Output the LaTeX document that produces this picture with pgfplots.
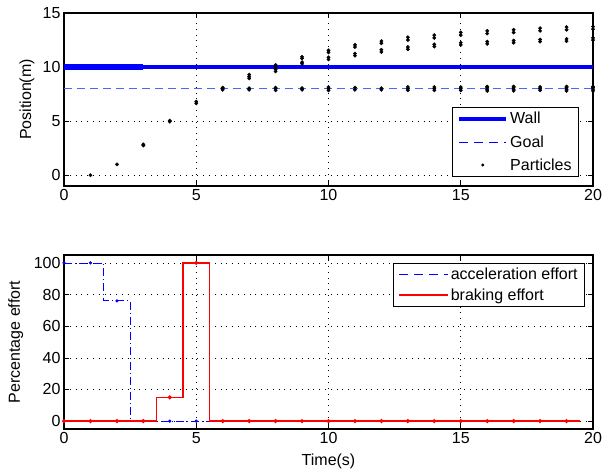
\documentclass[border=0pt]{standalone}
\usepackage{fontspec}
\setmainfont{Liberation Sans}
\usepackage{pgfplots}
\pgfplotsset{compat=1.18}
\definecolor{wallblue}{rgb}{0,0,1}
\definecolor{goalblue}{rgb}{0.28,0.4,1}
\pgfplotsset{
  myax/.style={
    scale only axis, width=529pt,
    xmin=0, xmax=20, xtick={0,5,...,20},
    grid=major,
    major grid style={black, line width=0.55pt, dash pattern=on 0.6pt off 5.2pt},
    tick align=inside, major tick length=5pt,
    tick style={black, line width=0.6pt},
    axis line style={line width=1.2pt},
    /pgf/number format/assume math mode=true,
    ticklabel style={font=\fontsize{16}{19}\selectfont},
    label style={font=\fontsize{16}{19}\selectfont},
    legend cell align=left,
    legend style={draw=black, line width=0.8pt, fill=white,
      font=\fontsize{16}{19}\selectfont, inner xsep=5pt, inner ysep=3pt,
      row sep=6pt},
  },
  longline/.style={legend image code/.code={\draw[##1] (0pt,0pt) -- (47pt,0pt);}},
  goalleg/.style={legend image code/.code={\draw[wallblue, line width=0.9pt, dash pattern=on 9pt off 6pt] (0pt,0pt) -- (47pt,0pt);}},
  partleg/.style={legend image code/.code={\path (0pt,-1pt) (47pt,1pt); \fill[black] (23.5pt,0pt) circle (1.1pt);}},
  accleg/.style={legend image code/.code={\draw[wallblue, line width=0.8pt, dash pattern=on 9pt off 6pt] (0pt,0pt) -- (49pt,0pt);}},
  brakeleg/.style={legend image code/.code={\draw[color=red, line width=1.5pt] (0pt,0pt) -- (49pt,0pt);}},
}
\begin{document}
\begin{tikzpicture}
\path[use as bounding box] (-64pt,13pt) rectangle (538pt,-458pt);
% ---------------- top axis
\begin{axis}[myax, at={(0pt,0pt)}, anchor=north west, height=173pt,
  ymin=-1, ymax=15, ytick={0,5,10,15},
  ylabel={Position(m)},
  y label style={at={(axis description cs:-0.07,0.5)}, anchor=center},
  legend style={at={(axis description cs:0.9735,0.052)}, anchor=south east},
]
\addplot[wallblue, line width=4pt, longline] coordinates {(0,10) (20,10)};
\addlegendentry{Wall}
\addplot[goalblue, line width=1pt, dash pattern=on 8pt off 5pt, goalleg] coordinates {(0,8) (20,8)};
\addlegendentry{Goal}
\addplot[only marks, mark=*, mark size=1.7pt, black, partleg]
coordinates {
(1,0) (2,1.0) (3,2.75) (3,2.85) (4,4.95) (4,5.05) (5,6.65) (5,6.8)
(6,7.9) (6,8.0) (6,8.1)
(7,7.9) (7,8.05) (7,8.95) (7,9.1) (7,9.3)
(8,7.85) (8,8.0) (8,8.1) (8,9.6) (8,9.8) (8,10.0) (8,10.2)
(9,7.9) (9,8.05) (9,10.3) (9,10.45) (9,10.8) (9,10.95)
(10,7.85) (10,8.0) (10,8.15) (10,10.7) (10,10.9) (10,11.35) (10,11.55)
(11,7.9) (11,8.1) (11,11.05) (11,11.25) (11,11.85) (11,12.05)
(12,7.9) (12,8.05) (12,11.4) (12,11.6) (12,12.2) (12,12.4)
(13,7.85) (13,8.0) (13,8.15) (13,11.65) (13,11.85) (13,12.5) (13,12.75)
(14,7.85) (14,8.0) (14,8.15) (14,11.9) (14,12.1) (14,12.7) (14,12.95)
(15,7.85) (15,8.0) (15,8.15) (15,12.05) (15,12.25) (15,12.95) (15,13.2)
(16,7.8) (16,7.95) (16,8.1) (16,8.2) (16,12.15) (16,12.35) (16,13.1) (16,13.35)
(17,7.8) (17,7.95) (17,8.1) (17,8.2) (17,12.25) (17,12.45) (17,13.2) (17,13.45)
(18,7.85) (18,8.0) (18,8.15) (18,12.35) (18,12.55) (18,13.35) (18,13.6)
(19,7.8) (19,7.95) (19,8.1) (19,8.2) (19,12.4) (19,12.6) (19,13.45) (19,13.7)
(20,7.8) (20,7.95) (20,8.1) (20,8.2) (20,12.5) (20,12.7) (20,13.5) (20,13.75)
};
\addlegendentry{Particles}
\addplot[wallblue, line width=5.5pt, forget plot] coordinates {(0,10) (3,10)};
\end{axis}
% ---------------- bottom axis
\begin{axis}[myax, at={(0pt,-242pt)}, anchor=north west, height=174pt,
  ymin=-5, ymax=105, ytick={0,20,...,100},
  ylabel={Percentage effort}, xlabel={Time(s)},
  y label style={at={(axis description cs:-0.091,0.5)}, anchor=center},
  x label style={at={(axis description cs:0.5,-0.184)}, anchor=center},
  legend style={at={(axis description cs:0.985,0.956)}, anchor=north east, row sep=3.5pt},
]
\addplot[wallblue, line width=0.8pt, dash pattern=on 8pt off 3pt on 1pt off 3pt,
  mark=*, mark size=1.2pt, every mark/.append style={solid},
  mark indices={1,2,5,8,9,10}, accleg]
  coordinates {(0,100) (1,100) (1.5,100) (1.5,76) (2,76) (2.5,76) (2.5,0) (3,0) (4,0) (5,0) (5.5,0)};
\addlegendentry{acceleration effort}
\addplot[color=red, line width=1.5pt, mark=*, mark size=1.2pt,
  mark indices={1,2,3,4,7,10,13,14,15,16,17,18,19,20,21,22,23,24,25,26}, brakeleg]
  coordinates {(0,0) (1,0) (2,0) (3,0) (3.5,0) (3.5,15) (4,15) (4.5,15) (4.5,100) (5,100) (5.5,100) (5.5,0)
   (6,0) (7,0) (8,0) (9,0) (10,0) (11,0) (12,0) (13,0) (14,0) (15,0) (16,0) (17,0) (18,0) (19,0) (19.5,0)};
\addlegendentry{braking effort}
\end{axis}
\end{tikzpicture}
\end{document}
